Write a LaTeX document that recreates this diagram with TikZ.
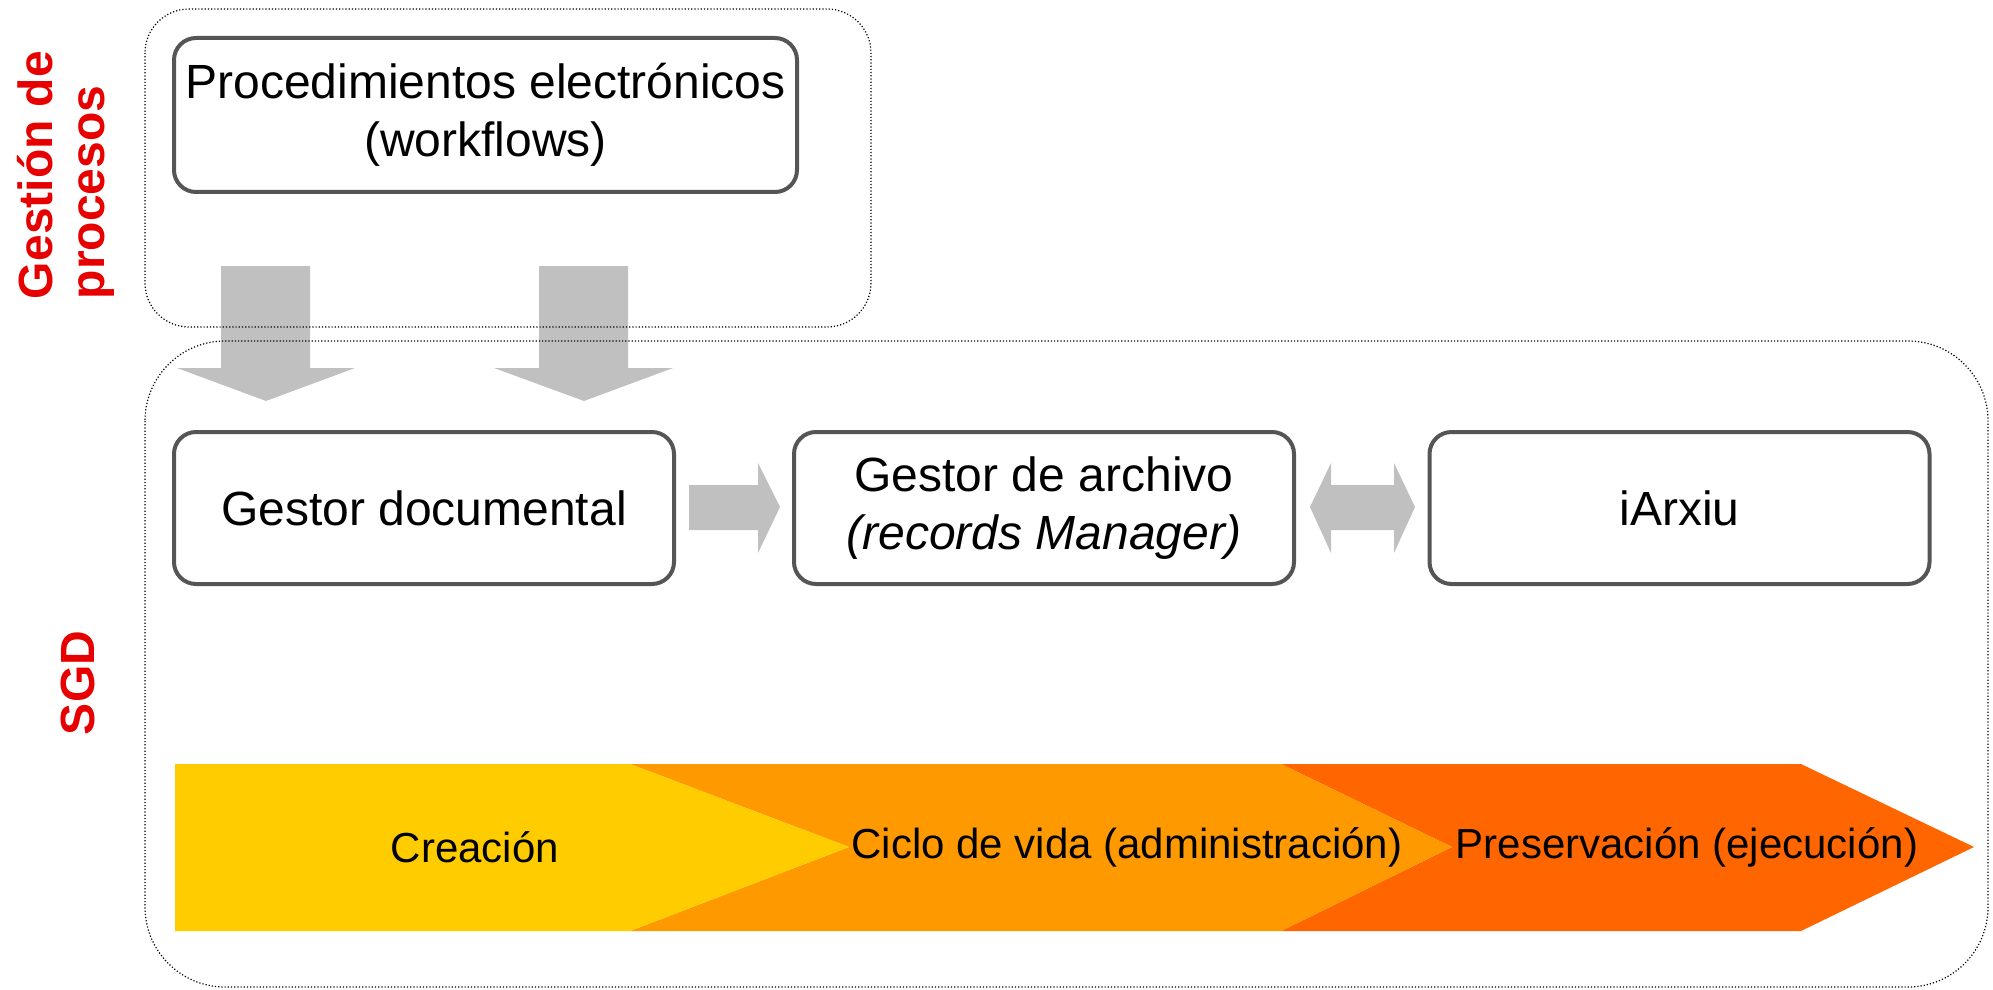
\documentclass[tikz,border=0pt]{standalone}
\usepackage{fontspec}
\setmainfont{Liberation Sans}
\definecolor{boxgray}{HTML}{555555}
\definecolor{arrgray}{HTML}{C0C0C0}
\definecolor{cyellow}{HTML}{FFCC00}
\definecolor{corange}{HTML}{FF9900}
\definecolor{cred}{HTML}{FF6600}
\definecolor{lblred}{HTML}{E60000}
\begin{document}
\begin{tikzpicture}[x=0.5pt,y=-0.5pt,
  box/.style={draw=boxgray, line width=2pt, rounded corners=11pt, fill=white, align=center, font=\fontsize{24}{29}\selectfont, inner sep=0pt},
  container/.style={draw=black, densely dotted, line width=0.6pt},
  blockarrow/.style={fill=arrgray, draw=none},
  chevtext/.style={font=\fontsize{21}{25}\selectfont, inner sep=0pt},
  sidelabel/.style={text=lblred, font=\bfseries\fontsize{24}{26}\selectfont, rotate=90, align=left, inner sep=0pt}]
\useasboundingbox (0,0) rectangle (1993,990);

% chevrons
\fill[cred] (1281,764) -- (1801,764) -- (1974,847) -- (1801,931) -- (1281,931) -- (1452,847) -- cycle;
\fill[corange] (630,764) -- (1281,764) -- (1452,847) -- (1281,931) -- (630,931) -- (849,847) -- cycle;
\fill[cyellow] (175,764) -- (630,764) -- (849,847) -- (630,931) -- (175,931) -- cycle;

% gray block arrows
\path[blockarrow] (221,266) -- (310,266) -- (310,368) -- (355,368) -- (266,401) -- (177,368) -- (221,368) -- cycle;
\path[blockarrow] (539,266) -- (628,266) -- (628,368) -- (673,368) -- (584,401) -- (494,368) -- (539,368) -- cycle;
\path[blockarrow] (689,485) -- (758,485) -- (758,463) -- (780,507) -- (758,553) -- (758,530) -- (689,530) -- cycle;
\path[blockarrow] (1310,507) -- (1331,463) -- (1331,485) -- (1394,485) -- (1394,463) -- (1415,507) -- (1394,553) -- (1394,530) -- (1331,530) -- (1331,553) -- cycle;

% containers
\draw[container, rounded corners=22pt] (145,9) rectangle (871,327);
\draw[container, rounded corners=40pt] (145,341) rectangle (1988,987);

% boxes
\node[box, minimum width=311.5pt, minimum height=77pt] (proc) at (485.5,115) {Procedimientos electrónicos\\(workflows)};
\node[box, minimum width=250pt, minimum height=76pt] (gdoc) at (424,508) {Gestor documental};
\node[box, minimum width=250pt, minimum height=76pt] (garch) at (1044,508) {Gestor de archivo\\\textit{(records Manager)}};
\node[box, minimum width=250pt, minimum height=76pt] (iarx) at (1679.5,508) {iArxiu};

% chevron texts
\node[chevtext] (t1) at (475,847) {Creación};
\node[chevtext] (t2) at (1127,847) {Ciclo de vida (administración)};
\node[chevtext] (t3) at (1687,847) {Preservación (ejecución)};

% side labels
\node[sidelabel] (lgp) at (66,175) {Gestión de\\procesos};
\node[sidelabel] (lsgd) at (78,683) {SGD};
\end{tikzpicture}
\end{document}
